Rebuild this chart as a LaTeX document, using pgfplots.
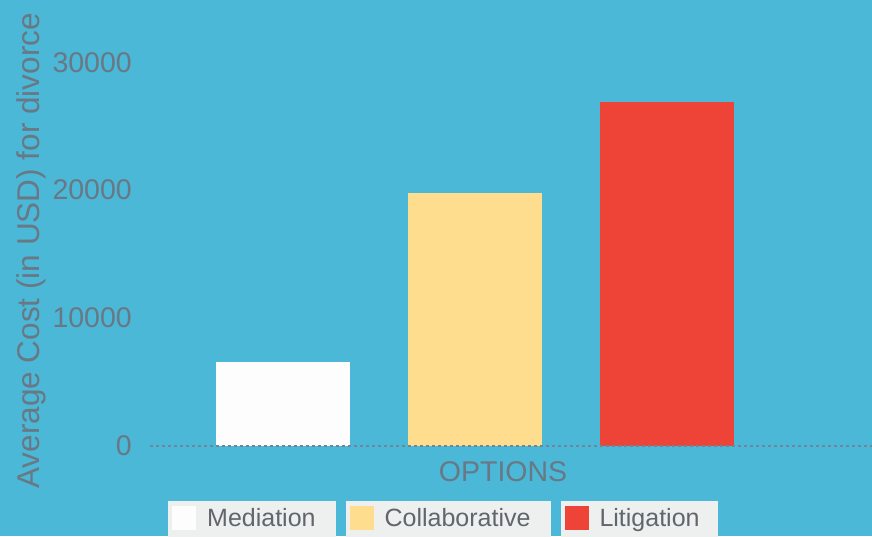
\documentclass[border=0pt]{standalone}
\usepackage{fontspec}
\setmainfont{Liberation Sans}
\usepackage{pgfplots}
\pgfplotsset{compat=1.18}
\definecolor{bgblue}{RGB}{74,184,214}
\definecolor{medwhite}{RGB}{253,253,253}
\definecolor{colyellow}{RGB}{254,222,142}
\definecolor{litred}{RGB}{238,68,56}
\definecolor{legbg}{RGB}{238,240,240}
\definecolor{labgray}{RGB}{105,120,132}
\definecolor{legtext}{RGB}{95,102,108}
\definecolor{dashgray}{RGB}{110,135,150}
\begin{document}
\begin{tikzpicture}
\fill[bgblue] (0,0) rectangle (872pt,536pt);
\begin{axis}[
  at={(150pt,90pt)}, anchor=south west,
  scale only axis, width=722pt, height=426pt,
  xmin=-0.693, xmax=3.068, ymin=0, ymax=33300,
  clip=false,
  axis line style={draw=none},
  major tick length=0pt,
  xtick=\empty,
  ytick={0,10000,20000,30000},
  scaled y ticks=false,
  /pgf/number format/set thousands separator={},
  /pgf/number format/assume math mode=true,
  yticklabel style={anchor=east, inner sep=0pt, xshift=-18pt, font=\fontsize{28.5}{28.5}\selectfont, text=labgray},
  xlabel={OPTIONS},
  xlabel style={at={(axis description cs:0.489,-0.061)}, anchor=center, inner sep=0pt, font=\fontsize{28.5}{28.5}\selectfont, text=labgray},
  ylabel={Average Cost (in USD) for divorce},
  ylabel style={at={(axis description cs:-0.1648,0.458)}, anchor=center, inner sep=0pt, font=\fontsize{31.5}{31.5}\selectfont, text=labgray},
  ybar, bar width=134pt,
  legend columns=3,
  legend style={at={(axis description cs:0.0305,-0.170)}, anchor=west, draw=none, fill=none, inner sep=0pt,
    font=\fontsize{25}{25}\selectfont, text=legtext, nodes={inner sep=0pt},
    /tikz/every odd column/.append style={column sep=11pt},
    /tikz/every even column/.append style={column sep=34pt}},
]
\addplot[fill=medwhite, draw=none, bar shift=0pt,
  legend image code/.code={\fill[legbg,overlay] (-4pt,-30pt) rectangle (164pt,17.5pt); \fill[medwhite] (0pt,-12pt) rectangle (24pt,12pt);}]
  coordinates {(0,6600)};
\addlegendentry{Mediation}
\addplot[fill=colyellow, draw=none, bar shift=0pt,
  legend image code/.code={\fill[legbg,overlay] (-4pt,-30pt) rectangle (201pt,17.5pt); \fill[colyellow] (0pt,-12pt) rectangle (24pt,12pt);}]
  coordinates {(1,19800)};
\addlegendentry{Collaborative}
\addplot[fill=litred, draw=none, bar shift=0pt,
  legend image code/.code={\fill[legbg,overlay] (-4pt,-30pt) rectangle (153pt,17.5pt); \fill[litred] (0pt,-12pt) rectangle (24pt,12pt);}]
  coordinates {(2,26900)};
\addlegendentry{Litigation}
\draw[dashgray, line width=1.8pt, dash pattern=on 3pt off 3pt] (rel axis cs:0,0) -- (rel axis cs:1,0);
\end{axis}
\pgfresetboundingbox
\useasboundingbox (0,0) rectangle (872pt,536pt);
\end{tikzpicture}
\end{document}
